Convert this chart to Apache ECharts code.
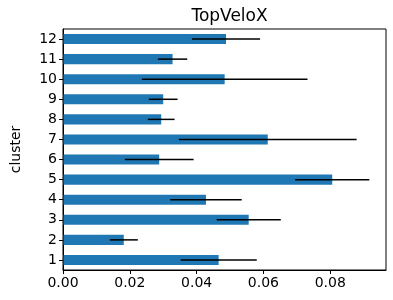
<!DOCTYPE html>
<html>
<head>
<meta charset="utf-8">
<script src="https://cdn.jsdelivr.net/npm/echarts@6/dist/echarts.min.js"></script>
<style>
  html, body { margin: 0; padding: 0; background: #fff; }
  #chart { width: 393px; height: 300px; }
</style>
</head>
<body>
<div id="chart"></div>
<script>
  // cluster labels, bottom to top
  var clusters = ['1', '2', '3', '4', '5', '6', '7', '8', '9', '10', '11', '12'];
  // mean TopVeloX per cluster
  var means = [0.0466, 0.0182, 0.0556, 0.0428, 0.0806, 0.0288, 0.0613, 0.0294, 0.0300, 0.0484, 0.0328, 0.0488];
  // error bar half width
  var errs = [0.0114, 0.0042, 0.0096, 0.0107, 0.0111, 0.0103, 0.0266, 0.0040, 0.0043, 0.0248, 0.0044, 0.0102];
  var xTicks = [0, 0.02, 0.04, 0.06, 0.08];

  var font = 'DejaVu Sans';
  var myChart = echarts.init(document.getElementById('chart'));

  var barData = means.map(function (v, i) { return [v, i]; });
  var errData = means.map(function (v, i) { return [v - errs[i], v + errs[i], i]; });
  var idx = clusters.map(function (c, i) { return i; });

  var option = {
    animation: false,
    title: {
      text: 'TopVeloX',
      left: 224.5,
      textAlign: 'center',
      top: 3,
      textStyle: { fontFamily: font, fontSize: 17, fontWeight: 'normal', color: '#000' }
    },
    grid: { left: 63, right: 7, top: 29, bottom: 30 },
    xAxis: {
      type: 'value',
      min: 0,
      max: 0.0967,
      interval: 0.02,
      axisLine: { show: true, onZero: false, lineStyle: { color: '#000', width: 1 } },
      axisTick: { show: true, length: 4, lineStyle: { color: '#000' }, customValues: xTicks },
      axisLabel: {
        customValues: xTicks,
        fontFamily: font, fontSize: 14, color: '#000', margin: 6,
        formatter: function (v) { return v.toFixed(2); }
      },
      splitLine: { show: false }
    },
    yAxis: {
      type: 'value',
      min: -0.5,
      max: 11.5,
      name: 'cluster',
      nameLocation: 'middle',
      nameGap: 40,
      nameTextStyle: { fontFamily: font, fontSize: 14, color: '#000' },
      axisLine: { show: true, onZero: false, lineStyle: { color: '#000', width: 1 } },
      axisTick: { show: true, length: 4, lineStyle: { color: '#000' }, customValues: idx },
      axisLabel: {
        customValues: idx,
        fontFamily: font, fontSize: 14, color: '#000', margin: 6,
        formatter: function (v) { return clusters[Math.round(v)]; }
      },
      splitLine: { show: false }
    },
    graphic: [{
      type: 'rect',
      shape: { x: 63, y: 29, width: 323, height: 241 },
      style: { fill: null, stroke: '#000', lineWidth: 1 },
      z: 100
    }],
    series: [
      {
        type: 'custom',
        data: barData,
        renderItem: function (params, api) {
          var p0 = api.coord([0, api.value(1)]);
          var p1 = api.coord([api.value(0), api.value(1)]);
          var h = api.size([0, 0.5])[1];
          return {
            type: 'rect',
            shape: { x: p0[0], y: p0[1] - h / 2, width: p1[0] - p0[0], height: h },
            style: { fill: '#1f77b4' }
          };
        },
        z: 2
      },
      {
        type: 'custom',
        data: errData,
        renderItem: function (params, api) {
          var a = api.coord([api.value(0), api.value(2)]);
          var b = api.coord([api.value(1), api.value(2)]);
          return {
            type: 'line',
            shape: { x1: a[0], y1: a[1], x2: b[0], y2: b[1] },
            style: { stroke: '#000', lineWidth: 1.5 }
          };
        },
        z: 3
      }
    ]
  };

  myChart.setOption(option);
</script>
</body>
</html>
